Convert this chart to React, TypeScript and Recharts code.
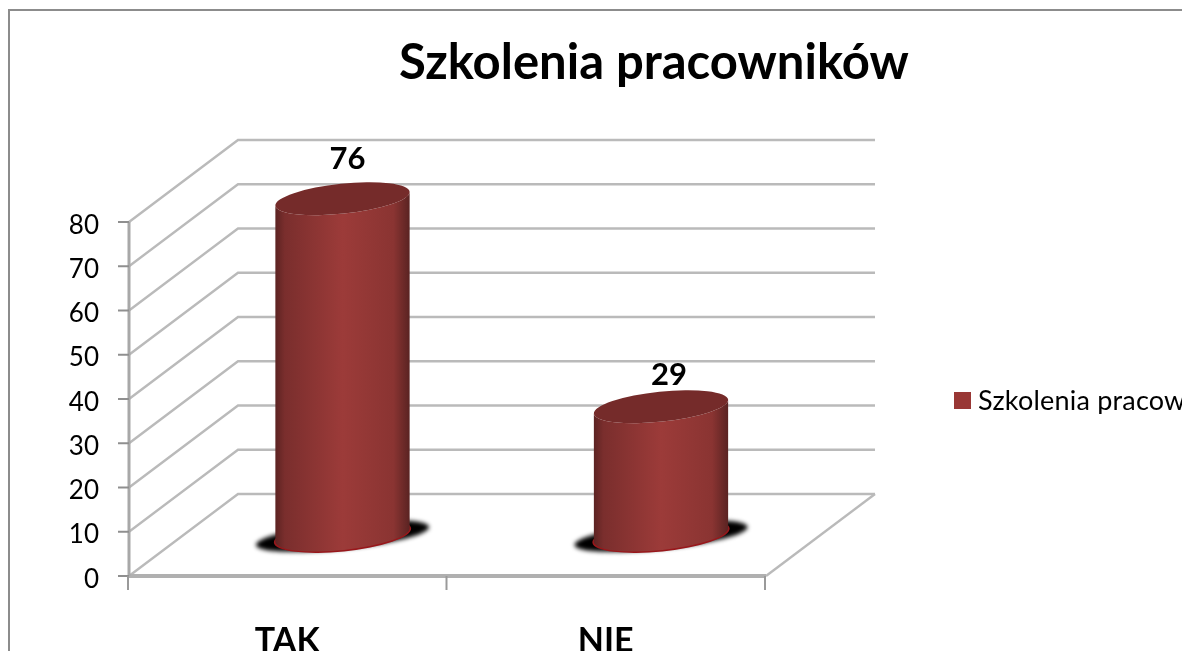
import React from "react";
import { BarChart, Bar, XAxis, YAxis, CartesianGrid, Legend, LabelList } from "recharts";

const categories = ["TAK", "NIE"];
const values = [76, 29];
const seriesName = "Szkolenia pracowników";
const yTicks = [0, 10, 20, 30, 40, 50, 60, 70, 80];
const labelNudgeX = [5, 8];
const labelNudgeY = [70.5, 63];

const rows = categories.map((c, i) => ({ name: c, value: values[i] }));

const DX = 109;
const DY = 82;
const FONT = "Lato, Carlito, sans-serif";
const GRID = "#bababa";
const PLOT_W = 637;

const tilt = 6;
const rx = 67.5;
const ry = 15;

const gridLine = (p: any) => {
  const { x1, x2, y1 } = p;
  const bottom = y1 > 570;
  return (
    <g key={p.key ?? y1}>
      <path d={`M${x1} ${y1}L${x1 + DX} ${y1 - DY}L${x2 + DX} ${y1 - DY}`} fill="none" stroke={GRID} strokeWidth={2.4} />
      {bottom ? <path d={`M${x2} ${y1}L${x2 + DX} ${y1 - DY}`} fill="none" stroke={GRID} strokeWidth={2.4} /> : null}
    </g>
  );
};

const Cylinder = (p: any) => {
  const { x, y, width, height } = p;
  const cx = x + width / 2 + DX / 2;
  const top = y - DY / 2;
  const base = y + height - DY / 2;
  const c = Math.cos((tilt * Math.PI) / 180) * rx;
  const s = Math.sin((tilt * Math.PI) / 180) * rx;
  const body = `M${cx - c} ${top + s}L${cx - c} ${base + s}A${rx} ${ry} ${-tilt} 0 0 ${cx + c} ${base - s}L${cx + c} ${top - s}A${rx} ${ry} ${-tilt} 0 1 ${cx - c} ${top + s}Z`;
  return (
    <g>
      <ellipse cx={cx} cy={base + 1} rx={87} ry={13} transform={`rotate(${-tilt} ${cx} ${base + 1})`} fill="#000" filter="url(#shadowBlur)" />
      <ellipse cx={cx} cy={base + 0.5} rx={rx + 1.5} ry={ry + 1} transform={`rotate(${-tilt} ${cx} ${base + 0.5})`} fill="#98171b" />
      <path d={body} fill="url(#cyl)" />
      <ellipse cx={cx} cy={top} rx={rx} ry={ry} transform={`rotate(${-tilt} ${cx} ${top})`} fill="#752b2a" />
    </g>
  );
};

const DataLabel = (p: any) => {
  const { x, y, width, value, index } = p;
  return (
    <text
      x={x + width / 2 + DX / 2 + labelNudgeX[index]}
      y={y - labelNudgeY[index]}
      textAnchor="middle"
      fontFamily={FONT}
      fontWeight={700}
      fontSize={31}
      fill="#000"
    >
      {value}
    </text>
  );
};

const XTick = (p: any) => {
  const { x, y, payload, index } = p;
  const band = PLOT_W / categories.length;
  return (
    <g>
      <line x1={x - band / 2 - 1} x2={x - band / 2 - 1} y1={y} y2={y + 14} stroke="#9a9a9a" strokeWidth={2} />
      {index === categories.length - 1 ? (
        <line x1={x + band / 2 - 1} x2={x + band / 2 - 1} y1={y} y2={y + 14} stroke="#9a9a9a" strokeWidth={2} />
      ) : null}
      <text x={x - 1} y={652} textAnchor="middle" fontFamily={FONT} fontWeight={700} fontSize={34} fill="#000">
        {payload.value}
      </text>
    </g>
  );
};

const LegendBox = () => (
  <div style={{ display: "flex", alignItems: "center", whiteSpace: "nowrap", overflow: "hidden", fontFamily: FONT, fontSize: 27, letterSpacing: 0.2, color: "#000", lineHeight: "28px" }}>
    <span style={{ display: "inline-block", width: 17, height: 17, background: "#993735", marginRight: 7, flex: "none" }} />
    {seriesName}
  </div>
);

export default function App() {
  return (
    <div style={{ position: "absolute", left: 0, top: 0, width: 1182, height: 651, overflow: "hidden", background: "#fff" }}>
      <div style={{ position: "absolute", left: 8, top: 9, width: 1300, height: 800, borderLeft: "2px solid #8c8c8c", borderTop: "2px solid #8c8c8c" }} />
      <div style={{ position: "absolute", left: 0, top: 0, filter: "blur(0.55px)" }}>
        <BarChart
          width={1188}
          height={653}
          data={rows}
          margin={{ left: 0, right: 422, top: 222, bottom: 0 }}
          barSize={134}
        >
          <defs>
            <linearGradient id="cyl" x1="0" x2="1" y1="0" y2="0">
              <stop offset="0" stopColor="#5c2322" />
              <stop offset="0.07" stopColor="#7a2e2d" />
              <stop offset="0.5" stopColor="#9c3b39" />
              <stop offset="0.88" stopColor="#8a3432" />
              <stop offset="1" stopColor="#5a2322" />
            </linearGradient>
            <filter id="shadowBlur" x="-20%" y="-60%" width="140%" height="220%">
              <feGaussianBlur stdDeviation="2.2" />
            </filter>
          </defs>
          <text x={654} y={79} textAnchor="middle" fontFamily={FONT} fontWeight={700} fontSize={49} fill="#000">
            {seriesName}
          </text>
          <CartesianGrid vertical={false} horizontal={gridLine} />
          <XAxis
            dataKey="name"
            height={77}
            tickLine={false}
            tickSize={0}
            tickMargin={0}
            axisLine={{ stroke: "#b0b0b0", strokeWidth: 4 }}
            tick={<XTick />}
            interval={0}
          />
          <YAxis
            width={129}
            domain={[0, 80]}
            ticks={yTicks}
            tickSize={11}
            tickMargin={19}
            axisLine={{ stroke: "#a8a8a8", strokeWidth: 3 }}
            tickLine={{ stroke: "#8f8f8f", strokeWidth: 2 }}
            tick={{ fontFamily: FONT, fontSize: 26, fill: "#000", dy: 2.5 }}
          />
          <Legend
            layout="horizontal"
            align="center"
            verticalAlign="middle"
            content={<LegendBox />}
            wrapperStyle={{ left: 954, top: 386, width: 228, margin: 0 }}
          />
          <Bar dataKey="value" name={seriesName} isAnimationActive={false} shape={<Cylinder />}>
            <LabelList dataKey="value" content={<DataLabel />} />
          </Bar>
        </BarChart>
      </div>
    </div>
  );
}
